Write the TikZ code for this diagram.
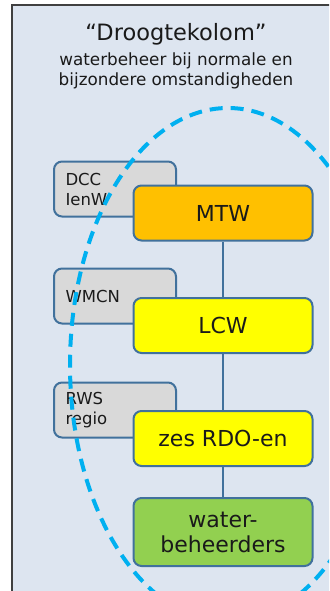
\documentclass[tikz,border=0pt]{standalone}
\usepackage{fontspec}
\setmainfont{DejaVu Sans}
\definecolor{panelbg}{HTML}{DDE5F0}
\definecolor{panelframe}{HTML}{404040}
\definecolor{boxframe}{HTML}{41719C}
\definecolor{greyfill}{HTML}{D9D9D9}
\definecolor{orangefill}{HTML}{FFC000}
\definecolor{yellowfill}{HTML}{FFFF00}
\definecolor{greenfill}{HTML}{92D050}
\definecolor{ringcol}{HTML}{00B0F0}
\definecolor{inktext}{HTML}{1A1A1A}
\tikzset{
  sidebox/.style={draw=boxframe, line width=2pt, fill=greyfill, rounded corners=8pt,
    minimum width=122pt, minimum height=55pt, text width=99pt, inner xsep=11.5pt,
    align=left, text=inktext, font=\fontsize{16.5}{20}\selectfont},
  rolebox/.style={draw=boxframe, line width=2pt, rounded corners=8pt,
    minimum width=179pt, minimum height=55pt, align=center, text=inktext,
    font=\fontsize{22}{25}\selectfont},
  link/.style={draw=boxframe, line width=1.2pt},
  ring/.style={draw=ringcol, line width=4pt, dash pattern=on 13pt off 8pt},
}
\begin{document}
\begin{tikzpicture}[x=1pt,y=-1pt]
\useasboundingbox (0,0) rectangle (329,591);
\clip (0,0) rectangle (329,591);
% background panel
\fill[white] (0,0) rectangle (329,591);
\filldraw[fill=panelbg, draw=panelframe, line width=1.5pt] (12,5) rectangle (345,610);

% heading
\node[font=\fontsize{22.5}{26}\selectfont, text=inktext] (title) at (176,34) {“Droogtekolom”};
\node[font=\fontsize{16.8}{20}\selectfont, text=inktext, align=center] (subtitle) at (176,71)
  {waterbeheer bij normale en\\bijzondere omstandigheden};

% advisory boxes on the left
\node[sidebox] (dcc) at (115,189) {DCC\\IenW};
\node[sidebox] (wmcn) at (115,296) {WMCN};
\node[sidebox] (rws) at (115,410) {RWS\\regio};

% dashed ring round the column
\draw[ring] (228,365) ellipse [x radius=158pt, y radius=257pt];

% the column itself
\node[rolebox, fill=orangefill] (mtw) at (223,213) {MTW};
\node[rolebox, fill=yellowfill] (lcw) at (223,325.5) {LCW};
\node[rolebox, fill=yellowfill] (rdo) at (223,438.5) {zes RDO-en};
\node[rolebox, fill=greenfill, minimum height=68pt] (wb) at (223,532) {water-\\beheerders};

\draw[link] (mtw) -- (lcw);
\draw[link] (lcw) -- (rdo);
\draw[link] (rdo) -- (wb);
\end{tikzpicture}
\end{document}
